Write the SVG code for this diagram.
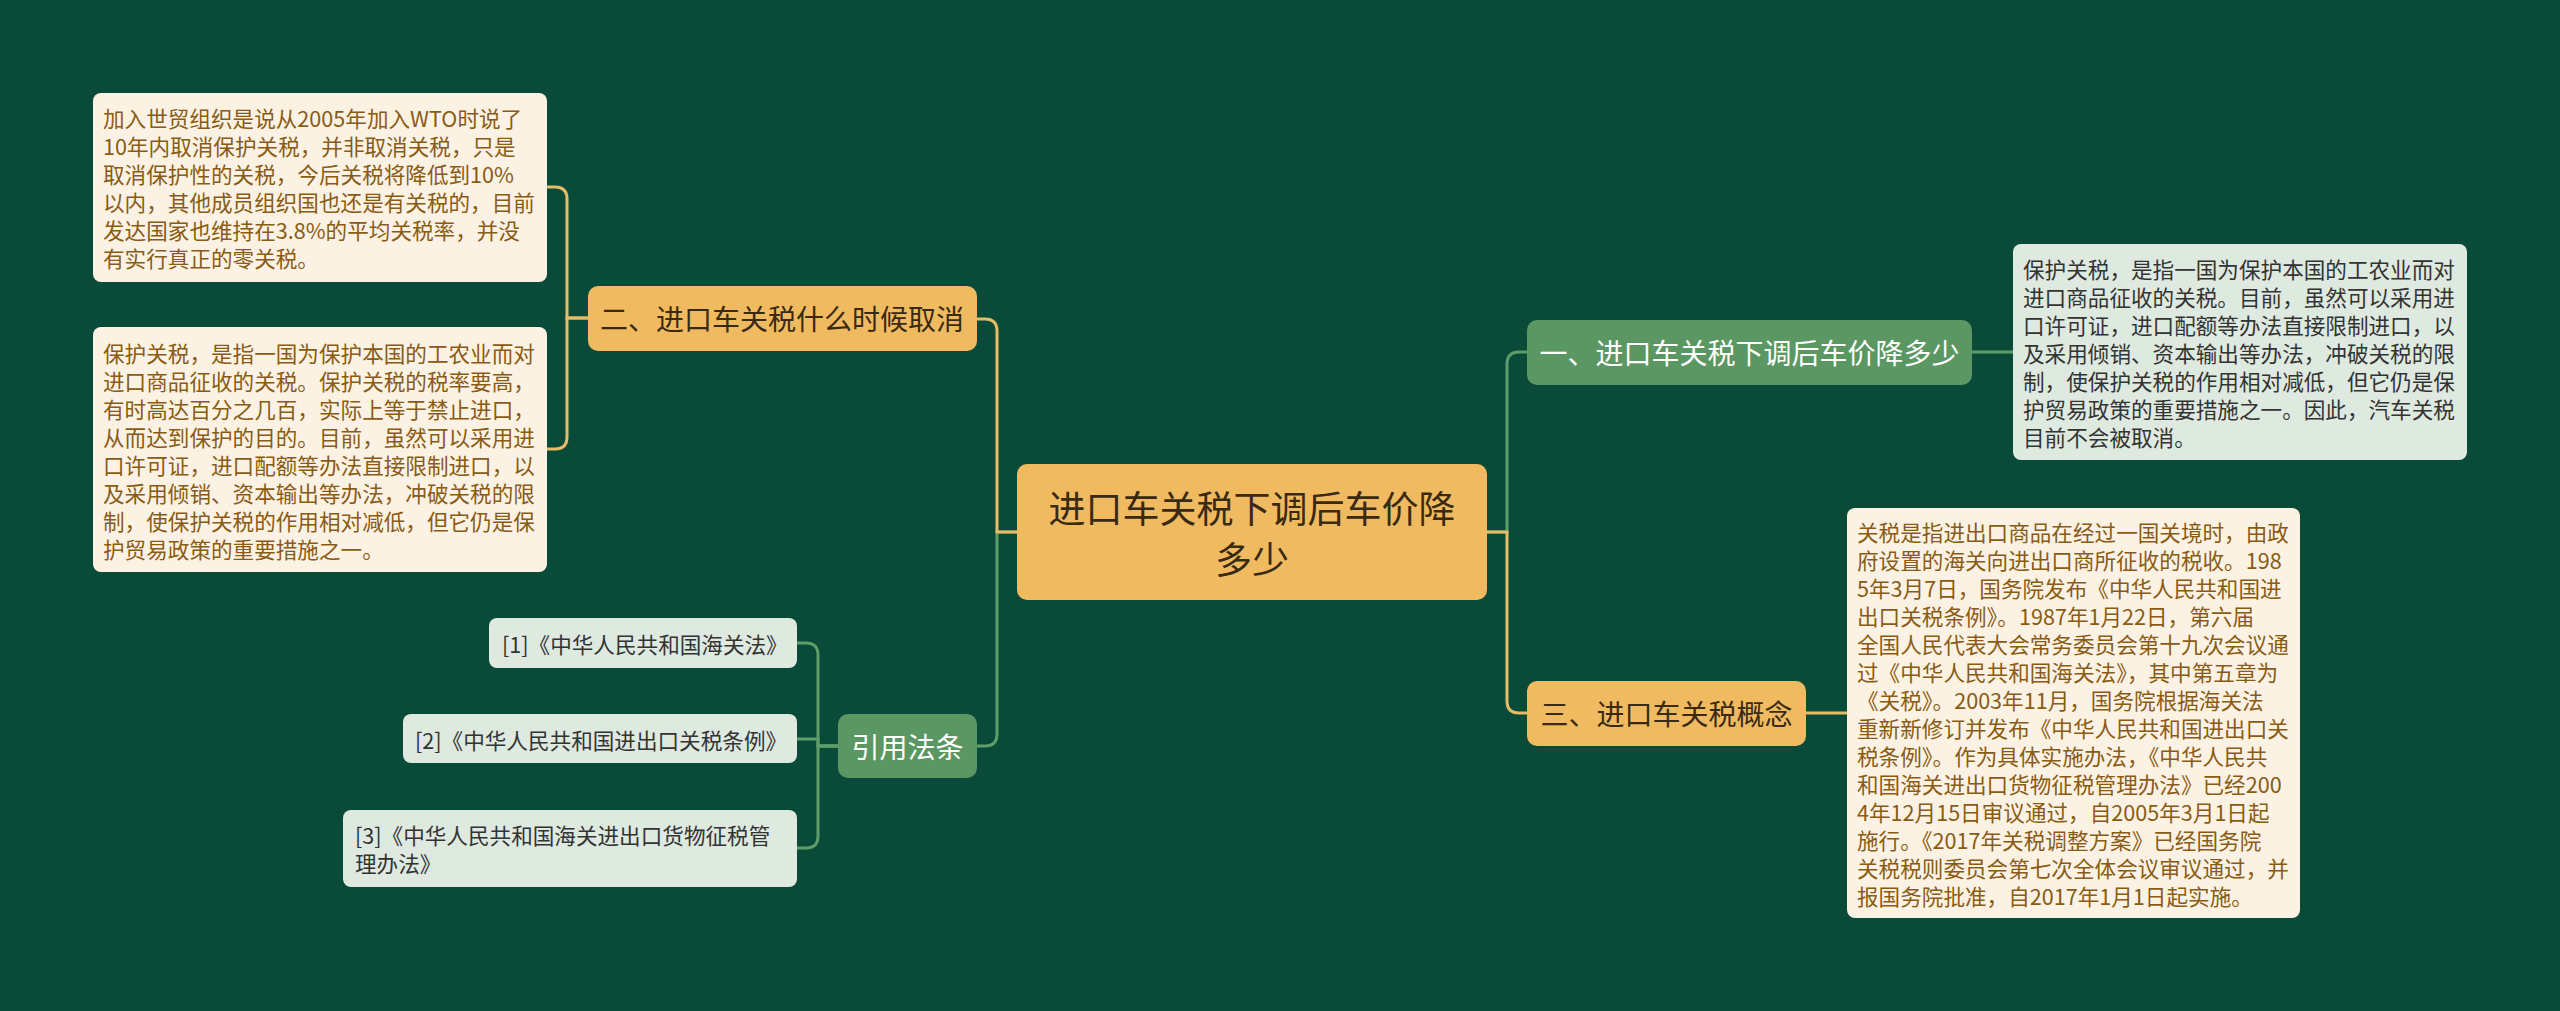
<svg xmlns="http://www.w3.org/2000/svg" width="2560" height="1011" viewBox="0 0 2560 1011">
<style>
text{font-family:"Noto Sans CJK SC","Noto Sans",sans-serif;dominant-baseline:central}
.bg{fill:#0a4a39}
.org{fill:#f0bb60}
.grn{fill:#5b9762}
.lg{fill:#dee9e0}
.cr{fill:#fcf2e3}
.tc{font-size:37px;fill:#3a2a14;text-anchor:middle}
.t1{font-size:28px;fill:#3a2a14;text-anchor:middle}
.tw{font-size:28px;fill:#ffffff;text-anchor:middle}
.tb{font-size:21.6px;fill:#8a5b14}
.td{font-size:21.6px;fill:#333333}
.cg{fill:none;stroke:#e6bc68;stroke-width:3}
.cn{fill:none;stroke:#5e9d68;stroke-width:3}
</style>
<rect class="bg" x="0" y="0" width="2560" height="1011"/>
<g id="connectors">
<path class="cn" d="M1017,532 H997 V734 Q997,746 985,746 H977"/>
<path class="cg" d="M1017,532 H997 V331 Q997,319 985,319 H977"/>
<path class="cg" d="M588,318 H567 V199 Q567,187 555,187 H547"/>
<path class="cg" d="M588,318 H567 V437 Q567,449 555,449 H547"/>
<path class="cn" d="M838,746 H818 V655 Q818,643 806,643 H797"/>
<path class="cn" d="M838,746 H818 V739 H797"/>
<path class="cn" d="M838,746 H818 V836 Q818,848 806,848 H797"/>
<path class="cn" d="M1487,532 H1507 V364 Q1507,352 1519,352 H1527"/>
<path class="cg" d="M1487,532 H1507 V701 Q1507,713 1519,713 H1527"/>
<path class="cn" d="M1972,352 H2013"/>
<path class="cg" d="M1806,713 H1847"/>
</g>
<g id="center">
<rect class="org" x="1017" y="464" width="470" height="136" rx="10"/>
<text class="tc" x="1252" y="507">进口车关税下调后车价降</text>
<text class="tc" x="1252" y="558">多少</text>
</g>
<g id="n2">
<rect class="org" x="588" y="286" width="389" height="65" rx="10"/>
<text class="t1" x="782" y="318">二、进口车关税什么时候取消</text>
</g>
<g id="n2a">
<rect class="cr" x="93" y="93" width="454" height="189" rx="8"/>
<text class="tb" x="103" y="117.5">加入世贸组织是说从2005年加入WTO时说了</text>
<text class="tb" x="103" y="145.5">10年内取消保护关税，并非取消关税，只是</text>
<text class="tb" x="103" y="173.5">取消保护性的关税，今后关税将降低到10%</text>
<text class="tb" x="103" y="201.5">以内，其他成员组织国也还是有关税的，目前</text>
<text class="tb" x="103" y="229.5">发达国家也维持在3.8%的平均关税率，并没</text>
<text class="tb" x="103" y="257.5">有实行真正的零关税。</text>
</g>
<g id="n2b">
<rect class="cr" x="93" y="327" width="454" height="245" rx="8"/>
<text class="tb" x="103" y="352">保护关税，是指一国为保护本国的工农业而对</text>
<text class="tb" x="103" y="380">进口商品征收的关税。保护关税的税率要高，</text>
<text class="tb" x="103" y="408">有时高达百分之几百，实际上等于禁止进口，</text>
<text class="tb" x="103" y="436">从而达到保护的目的。目前，虽然可以采用进</text>
<text class="tb" x="103" y="464">口许可证，进口配额等办法直接限制进口，以</text>
<text class="tb" x="103" y="492">及采用倾销、资本输出等办法，冲破关税的限</text>
<text class="tb" x="103" y="520">制，使保护关税的作用相对减低，但它仍是保</text>
<text class="tb" x="103" y="548">护贸易政策的重要措施之一。</text>
</g>
<g id="n4">
<rect class="grn" x="838" y="714" width="139" height="64" rx="10"/>
<text class="tw" x="907.5" y="746">引用法条</text>
</g>
<g id="r1">
<rect class="lg" x="489" y="618" width="308" height="50" rx="8"/>
<text class="td" x="502" y="643">[1]《中华人民共和国海关法》</text>
</g>
<g id="r2">
<rect class="lg" x="403" y="714" width="394" height="49" rx="8"/>
<text class="td" x="415" y="739">[2]《中华人民共和国进出口关税条例》</text>
</g>
<g id="r3">
<rect class="lg" x="343" y="810" width="454" height="77" rx="8"/>
<text class="td" x="355" y="834.5">[3]《中华人民共和国海关进出口货物征税管</text>
<text class="td" x="355" y="862.5">理办法》</text>
</g>
<g id="n1">
<rect class="grn" x="1527" y="320" width="445" height="65" rx="10"/>
<text class="tw" x="1749.5" y="352">一、进口车关税下调后车价降多少</text>
</g>
<g id="n1a">
<rect class="lg" x="2013" y="244" width="454" height="216" rx="8"/>
<text class="td" x="2023" y="268">保护关税，是指一国为保护本国的工农业而对</text>
<text class="td" x="2023" y="296">进口商品征收的关税。目前，虽然可以采用进</text>
<text class="td" x="2023" y="324">口许可证，进口配额等办法直接限制进口，以</text>
<text class="td" x="2023" y="352">及采用倾销、资本输出等办法，冲破关税的限</text>
<text class="td" x="2023" y="380">制，使保护关税的作用相对减低，但它仍是保</text>
<text class="td" x="2023" y="408">护贸易政策的重要措施之一。因此，汽车关税</text>
<text class="td" x="2023" y="436">目前不会被取消。</text>
</g>
<g id="n3">
<rect class="org" x="1527" y="681" width="279" height="65" rx="10"/>
<text class="t1" x="1666.5" y="713">三、进口车关税概念</text>
</g>
<g id="n3a">
<rect class="cr" x="1847" y="508" width="453" height="410" rx="8"/>
<text class="tb" x="1857" y="531">关税是指进出口商品在经过一国关境时，由政</text>
<text class="tb" x="1857" y="559">府设置的海关向进出口商所征收的税收。198</text>
<text class="tb" x="1857" y="587">5年3月7日，国务院发布《中华人民共和国进</text>
<text class="tb" x="1857" y="615">出口关税条例》。1987年1月22日，第六届</text>
<text class="tb" x="1857" y="643">全国人民代表大会常务委员会第十九次会议通</text>
<text class="tb" x="1857" y="671">过《中华人民共和国海关法》，其中第五章为</text>
<text class="tb" x="1857" y="699">《关税》。2003年11月，国务院根据海关法</text>
<text class="tb" x="1857" y="727">重新新修订并发布《中华人民共和国进出口关</text>
<text class="tb" x="1857" y="755">税条例》。作为具体实施办法，《中华人民共</text>
<text class="tb" x="1857" y="783">和国海关进出口货物征税管理办法》已经200</text>
<text class="tb" x="1857" y="811">4年12月15日审议通过，自2005年3月1日起</text>
<text class="tb" x="1857" y="839">施行。《2017年关税调整方案》已经国务院</text>
<text class="tb" x="1857" y="867">关税税则委员会第七次全体会议审议通过，并</text>
<text class="tb" x="1857" y="895">报国务院批准，自2017年1月1日起实施。</text>
</g>
</svg>
